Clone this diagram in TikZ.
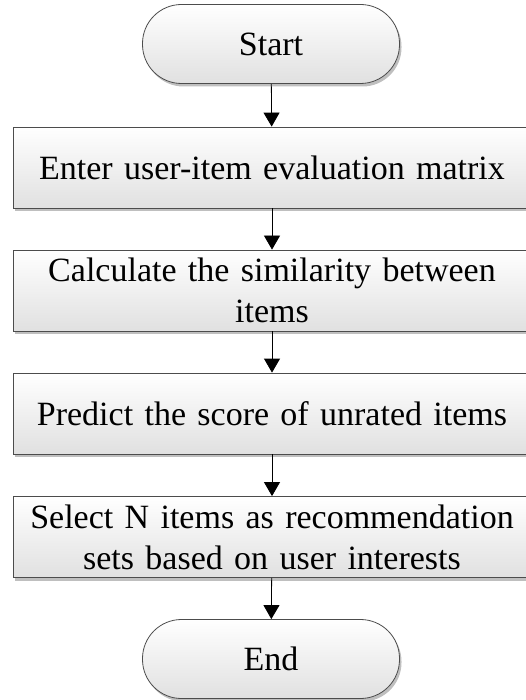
\documentclass[tikz,border=0pt]{standalone}
\usepackage{fontspec}
\setmainfont{Liberation Serif}[WordSpace=0.8]
\usetikzlibrary{arrows.meta,shadows}
\tikzset{
  stepbox/.style={draw=black!70, line width=0.8pt, top color=white, bottom color=black!12,
    drop shadow={shadow xshift=2pt, shadow yshift=-3pt, fill=black!25, opacity=1},
    minimum width=518pt, minimum height=81pt, text width=510pt, align=center,
    inner sep=0pt, font=\fontsize{34}{41}\selectfont},
  termbox/.style={stepbox, rounded corners=39pt, minimum width=257pt, minimum height=79pt,
    text width=240pt},
  flow/.style={line width=0.8pt, -{Triangle[width=16pt,length=14pt]}}
}
\begin{document}
\begin{tikzpicture}[x=1pt, y=-1pt]
    \useasboundingbox (0, 0) rectangle (525, 700);
    \node[termbox] (start) at (271, 44) {Start};
    \node[stepbox] (enter) at (272, 167.5) {Enter user-item evaluation matrix};
    \node[stepbox] (simil) at (272, 290.5) {Calculate the similarity between\\items};
    \node[stepbox] (predict) at (272, 413.5) {Predict the score of unrated items};
    \node[stepbox] (select) at (272, 537) {Select N items as recommendation\\sets based on user interests};
    \node[termbox] (stop) at (271, 659) {End};
    \draw[flow] (start) -- (enter);
    \draw[flow] (enter) -- (simil);
    \draw[flow] (simil) -- (predict);
    \draw[flow] (predict) -- (select);
    \draw[flow] (select) -- (stop);
  \end{tikzpicture}
\end{document}
